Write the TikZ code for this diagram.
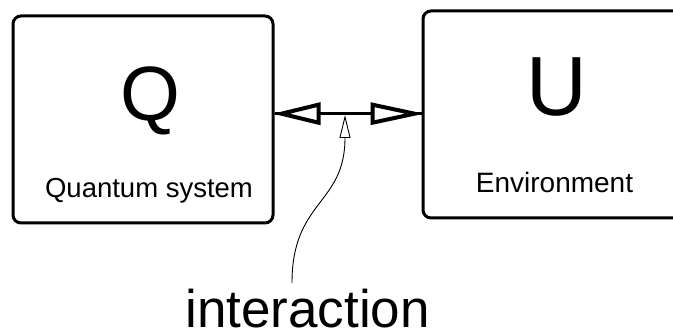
\documentclass[tikz,border=0pt]{standalone}
\usepackage{fontspec}
\setmainfont{Liberation Sans}
\usetikzlibrary{arrows.meta}
\tikzset{
  sysbox/.style={draw, line width=3pt, rounded corners=8pt, inner sep=0pt},
  bigletter/.style={font=\fontsize{77}{77}\selectfont, anchor=base, inner sep=0pt},
  boxlabel/.style={font=\fontsize{27.5}{28}\selectfont, anchor=base, inner sep=0pt},
  headshape/.style={draw, fill=white, line width=4pt, line join=miter},
}
\begin{document}
\begin{tikzpicture}[x=1pt,y=-1pt]
\useasboundingbox (0,0) rectangle (673,331);
\clip (0,0) rectangle (673,331);
\node[sysbox, minimum width=260pt, minimum height=207pt] (qbox) at (143,119.5) {};
\node[sysbox, minimum width=300pt, minimum height=207pt] (ubox) at (573,114.5) {};
\node[bigletter] (q) at (150,120.5) {Q};
\node[bigletter, font=\fontsize{84}{84}\selectfont] (u) at (556.5,115.5) {U};
\node[boxlabel] (qlab) at (149,198) {Quantum system};
\node[boxlabel, font=\fontsize{28}{28}\selectfont] (ulab) at (554.5,193) {Environment};
\node[font=\fontsize{53}{53}\selectfont, anchor=base, inner sep=0pt] (inter) at (307.5,327.5) {interaction};
\coordinate (L) at ([yshift=0.8pt]qbox.east |- ubox.west);
\coordinate (R) at ([yshift=0.8pt]ubox.west);
\draw[line width=3.3pt] (L) -- (R);
\draw[headshape] ([xshift=7pt]L) -- ([xshift=44pt,yshift=9pt]L) -- ([xshift=44pt,yshift=-9pt]L) -- cycle;
\draw[headshape] ([xshift=-7pt]R) -- ([xshift=-49pt,yshift=9pt]R) -- ([xshift=-49pt,yshift=-9pt]R) -- cycle;
\coordinate (ia) at (292,283);
\coordinate (tip) at (345,115);
\draw[line width=0.9pt, -{Triangle[open,length=23pt,width=11pt]}]
  (ia) .. controls (292,200) and (345,205) .. (tip);
\end{tikzpicture}
\end{document}
